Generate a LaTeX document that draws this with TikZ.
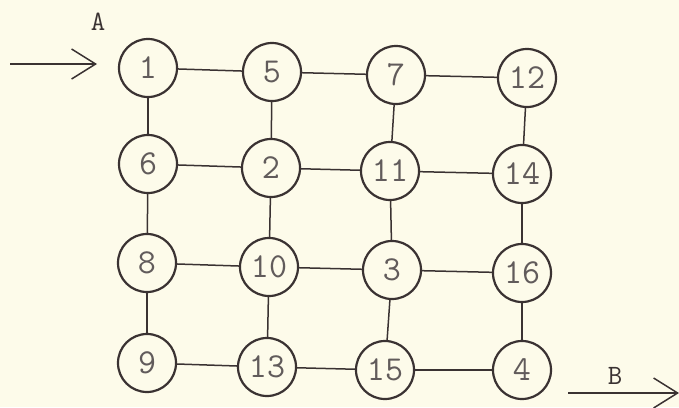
\documentclass[tikz,border=0pt]{standalone}
\usepackage{fontspec}
\usetikzlibrary{arrows.meta}
\definecolor{paper}{HTML}{FDFBEA}
\definecolor{ink}{HTML}{3A3232}
\begin{document}
\begin{tikzpicture}[x=1pt,y=-1pt,
  vtx/.style={circle,draw=ink,line width=2.2pt,minimum size=58pt,inner sep=0pt,
    font=\ttfamily\fontsize{35}{37}\selectfont,text=ink!80},
  edge/.style={draw=ink,line width=1.5pt},
  arr/.style={draw=ink,line width=1.5pt,-{Straight Barb[length=24pt,width=30pt,line width=1.5pt]}},
  lbl/.style={font=\ttfamily\fontsize{28}{30}\selectfont,text=ink}]
\fill[paper] (0,0) rectangle (679,407);
\useasboundingbox (0,0) rectangle (679,407);
\node[vtx] (n1) at (148,68) {1};
\node[vtx] (n5) at (272,72) {5};
\node[vtx] (n7) at (396,75) {7};
\node[vtx] (n12) at (527,78) {12};
\node[vtx] (n6) at (148,164) {6};
\node[vtx] (n2) at (271,168) {2};
\node[vtx] (n11) at (390,171) {11};
\node[vtx] (n14) at (522,174) {14};
\node[vtx] (n8) at (147,263) {8};
\node[vtx] (n10) at (269,267) {10};
\node[vtx] (n3) at (392,270) {3};
\node[vtx] (n16) at (522,273) {16};
\node[vtx] (n9) at (147,363) {9};
\node[vtx] (n13) at (267,367) {13};
\node[vtx] (n15) at (385,370) {15};
\node[vtx] (n4) at (522,370) {4};
% horizontal
\draw[edge] (n1)--(n5); \draw[edge] (n5)--(n7); \draw[edge] (n7)--(n12);
\draw[edge] (n6)--(n2); \draw[edge] (n2)--(n11); \draw[edge] (n11)--(n14);
\draw[edge] (n8)--(n10); \draw[edge] (n10)--(n3); \draw[edge] (n3)--(n16);
\draw[edge] (n9)--(n13); \draw[edge] (n13)--(n15); \draw[edge] (n15)--(n4);
% vertical
\draw[edge] (n1)--(n6); \draw[edge] (n6)--(n8); \draw[edge] (n8)--(n9);
\draw[edge] (n5)--(n2); \draw[edge] (n2)--(n10); \draw[edge] (n10)--(n13);
\draw[edge] (n7)--(n11); \draw[edge] (n11)--(n3); \draw[edge] (n3)--(n15);
\draw[edge] (n12)--(n14); \draw[edge] (n14)--(n16); \draw[edge] (n16)--(n4);
% arrows
\coordinate (aS) at (10,64);
\coordinate (aE) at (97,64);
\draw[arr] (aS) -- (aE);
\node[lbl] (la) at (98,22) {A};
\coordinate (bS) at (568,393);
\coordinate (bE) at (679,393);
\draw[arr] (bS) -- (bE);
\node[lbl] (lb) at (615,376) {B};
\end{tikzpicture}
\end{document}
